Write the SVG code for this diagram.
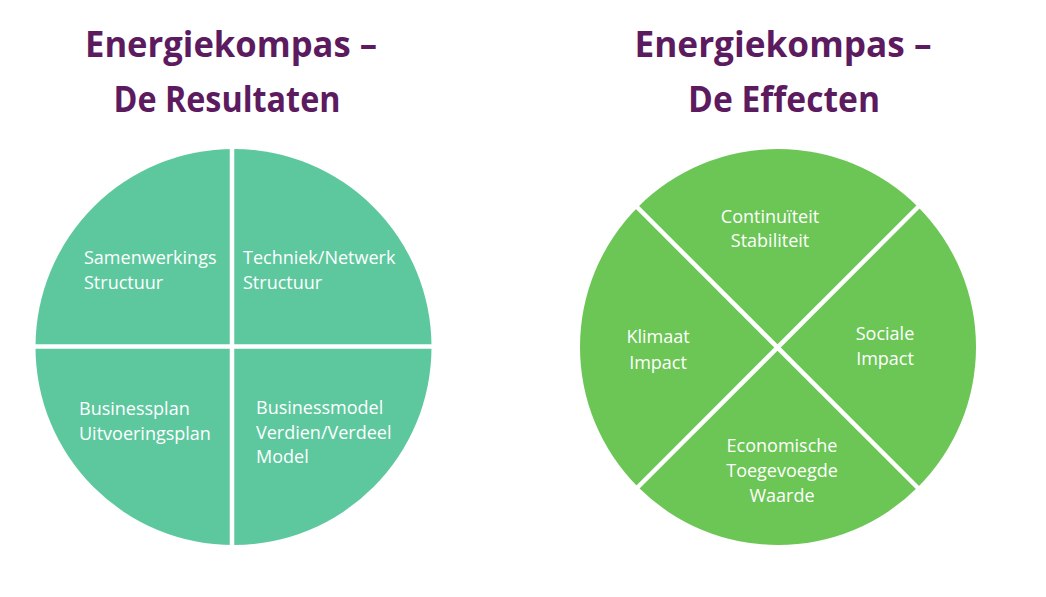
<svg xmlns="http://www.w3.org/2000/svg" width="1046" height="597" viewBox="0 0 1046 597">
<style>
.title{font-family:"Open Sans","Liberation Sans",sans-serif;font-weight:bold;font-size:35px;fill:#5c1a5f}
.lbl{font-family:"Open Sans","Liberation Sans",sans-serif;font-size:18px;fill:#ffffff}
.c{text-anchor:middle}
.sep{stroke:#ffffff;stroke-width:4.5;fill:none}
</style>
<rect width="1046" height="597" fill="#ffffff"/>
<g id="title-left">
<text class="title c" x="231" y="57" textLength="292" lengthAdjust="spacingAndGlyphs">Energiekompas –</text>
<text class="title c" x="227" y="112" textLength="227" lengthAdjust="spacingAndGlyphs">De Resultaten</text>
</g>
<g id="title-right">
<text class="title c" x="783" y="57" textLength="297" lengthAdjust="spacingAndGlyphs">Energiekompas –</text>
<text class="title c" x="784" y="112" textLength="192" lengthAdjust="spacingAndGlyphs">De Effecten</text>
</g>
<g id="circle-left">
<circle cx="233.5" cy="347" r="198" fill="#5dc89e"/>
<line class="sep" x1="232" y1="145" x2="232" y2="550"/>
<line class="sep" x1="30" y1="346.5" x2="437" y2="346.5"/>
</g>
<g id="q-samenwerking"><text class="lbl" x="84" y="264">Samenwerkings</text><text class="lbl" x="84" y="289">Structuur</text></g>
<g id="q-techniek"><text class="lbl" x="243" y="264">Techniek/Netwerk</text><text class="lbl" x="243" y="289">Structuur</text></g>
<g id="q-businessplan"><text class="lbl" x="79" y="415">Businessplan</text><text class="lbl" x="79" y="440">Uitvoeringsplan</text></g>
<g id="q-businessmodel"><text class="lbl" x="256" y="414">Businessmodel</text><text class="lbl" x="256" y="439">Verdien/Verdeel</text><text class="lbl" x="256" y="463">Model</text></g>
<g id="circle-right">
<circle cx="778" cy="347" r="198" fill="#6bc655"/>
<line class="sep" x1="632" y1="202" x2="922" y2="492"/>
<line class="sep" x1="922" y1="203" x2="633" y2="492"/>
</g>
<g id="q-continuiteit"><text class="lbl c" x="770" y="223">Continuïteit</text><text class="lbl c" x="770" y="247">Stabiliteit</text></g>
<g id="q-klimaat"><text class="lbl c" x="658" y="343">Klimaat</text><text class="lbl c" x="658" y="369">Impact</text></g>
<g id="q-sociale"><text class="lbl c" x="885" y="340">Sociale</text><text class="lbl c" x="885" y="365">Impact</text></g>
<g id="q-economische"><text class="lbl c" x="782" y="452">Economische</text><text class="lbl c" x="782" y="477">Toegevoegde</text><text class="lbl c" x="782" y="502">Waarde</text></g>
</svg>
